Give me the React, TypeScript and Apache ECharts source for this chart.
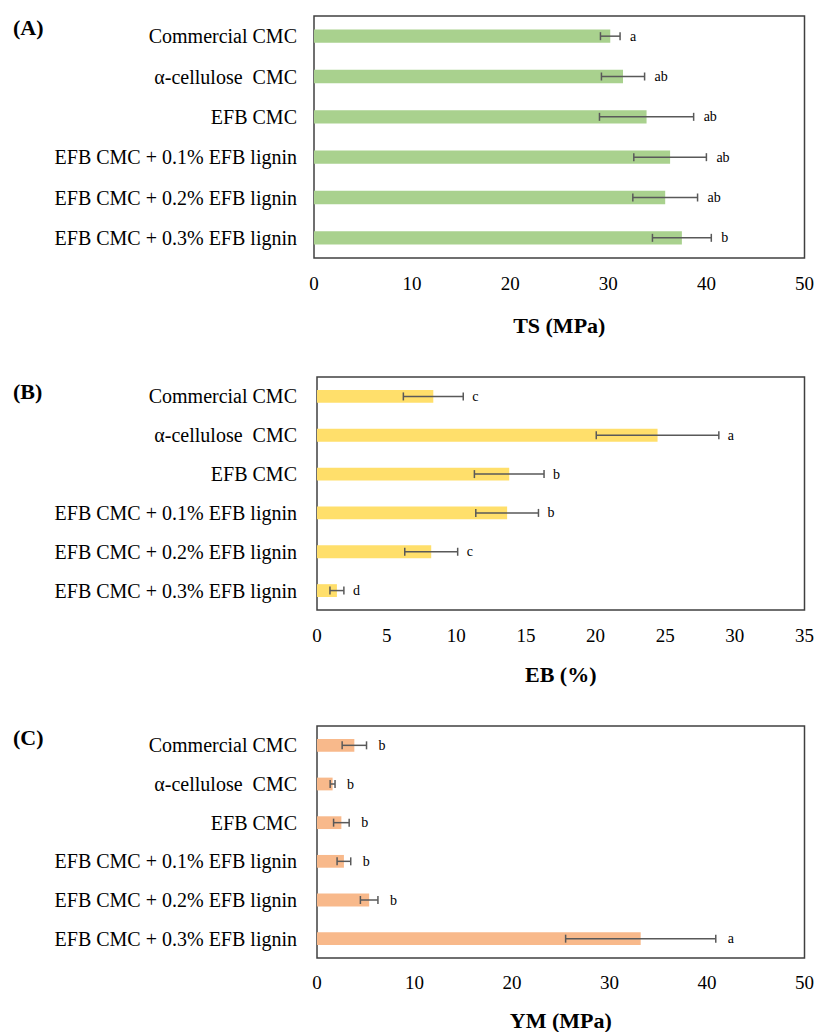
import React, { useEffect, useRef } from "react";
import * as echarts from "echarts";

const categories = [
  "Commercial CMC",
  "α-cellulose  CMC",
  "EFB CMC",
  "EFB CMC + 0.1% EFB lignin",
  "EFB CMC + 0.2% EFB lignin",
  "EFB CMC + 0.3% EFB lignin",
];

const tsMean = [30.2, 31.5, 33.9, 36.3, 35.8, 37.5];
const tsSd = [1.0, 2.2, 4.8, 3.7, 3.3, 3.0];
const tsLetters = ["a", "ab", "ab", "ab", "ab", "b"];

const ebMean = [8.35, 24.45, 13.8, 13.65, 8.2, 1.43];
const ebSd = [2.15, 4.4, 2.5, 2.25, 1.9, 0.5];
const ebLetters = ["c", "a", "b", "b", "c", "d"];

const ymMean = [3.83, 1.6, 2.5, 2.76, 5.35, 33.2];
const ymSd = [1.25, 0.25, 0.8, 0.7, 0.9, 7.7];
const ymLetters = ["b", "b", "b", "b", "b", "a"];

const SERIF = "Liberation Serif, Times New Roman, serif";

type Panel = {
  mean: number[];
  sd: number[];
  letters: string[];
  color: string;
  max: number;
  interval: number;
  name: string;
  grid: { left: number; right: number; top: number; height: number };
  nameGap: number;
  labelMargin: number;
  yLabelMargin: number;
  letterOffset: number;
};

const panels: Panel[] = [
  {
    mean: tsMean, sd: tsSd, letters: tsLetters, color: "#A9D18E", max: 50, interval: 10,
    name: "TS (MPa)", grid: { left: 314, right: 11, top: 16, height: 242 },
    nameGap: 67, labelMargin: 16, yLabelMargin: 17, letterOffset: 10,
  },
  {
    mean: ebMean, sd: ebSd, letters: ebLetters, color: "#FFDF6B", max: 35, interval: 5,
    name: "EB (%)", grid: { left: 317, right: 11, top: 377, height: 233 },
    nameGap: 64, labelMargin: 16, yLabelMargin: 20, letterOffset: 9,
  },
  {
    mean: ymMean, sd: ymSd, letters: ymLetters, color: "#F8B98B", max: 50, interval: 10,
    name: "YM (MPa)", grid: { left: 317, right: 10, top: 726, height: 236 },
    nameGap: 62, labelMargin: 15, yLabelMargin: 20, letterOffset: 12,
  },
];

const panelTags = ["(A)", "(B)", "(C)"];
const tagY = [28, 392, 738];

export default function App() {
  const ref = useRef<HTMLDivElement>(null);
  useEffect(() => {
    if (!ref.current) return;
    const chart = echarts.init(ref.current, undefined, { renderer: "svg" });
    const grids: any[] = [];
    const xAxes: any[] = [];
    const yAxes: any[] = [];
    const series: any[] = [];
    panels.forEach((p, k) => {
      grids.push({
        ...p.grid,
        show: true,
        borderColor: "#404040",
        borderWidth: 1.5,
        backgroundColor: "#fff",
      });
      xAxes.push({
        type: "value",
        gridIndex: k,
        min: 0,
        max: p.max,
        interval: p.interval,
        axisLine: { show: false },
        axisTick: { show: false },
        splitLine: { show: false },
        axisLabel: { fontFamily: SERIF, fontSize: 19, color: "#000", margin: p.labelMargin },
        name: p.name,
        nameLocation: "middle",
        nameGap: p.nameGap,
        nameTextStyle: { fontFamily: SERIF, fontSize: 22, fontWeight: "bold", color: "#000", verticalAlign: "middle" },
      });
      yAxes.push({
        type: "category",
        gridIndex: k,
        inverse: true,
        data: categories,
        axisLine: { show: false },
        axisTick: { show: false },
        axisLabel: { fontFamily: SERIF, fontSize: 20, color: "#000", margin: p.yLabelMargin },
      });
      series.push({
        type: "bar",
        xAxisIndex: k,
        yAxisIndex: k,
        data: p.mean,
        barWidth: "33%",
        itemStyle: { color: p.color },
      });
      const errData = p.mean.map((m, i) => [m - p.sd[i], m + p.sd[i], i]);
      series.push({
        type: "custom",
        xAxisIndex: k,
        yAxisIndex: k,
        data: errData,
        encode: { x: [0, 1], y: 2 },
        clip: false,
        z: 5,
        renderItem: (params: any, api: any) => {
          const i = api.value(2);
          const a = api.coord([api.value(0), i]);
          const b = api.coord([api.value(1), i]);
          const h = 4;
          const st = { stroke: "#595959", lineWidth: 1.5 };
          return {
            type: "group",
            children: [
              { type: "line", shape: { x1: a[0], y1: a[1], x2: b[0], y2: b[1] }, style: st },
              { type: "line", shape: { x1: a[0], y1: a[1] - h, x2: a[0], y2: a[1] + h }, style: st },
              { type: "line", shape: { x1: b[0], y1: b[1] - h, x2: b[0], y2: b[1] + h }, style: st },
              {
                type: "text",
                x: b[0] + p.letterOffset,
                y: b[1],
                style: {
                  text: p.letters[params.dataIndex],
                  fontFamily: SERIF,
                  fontSize: 14,
                  fill: "#000",
                  align: "left",
                  verticalAlign: "middle",
                },
              },
            ],
          };
        },
      });
    });
    chart.setOption({
      animation: false,
      backgroundColor: "#fff",
      grid: grids,
      xAxis: xAxes,
      yAxis: yAxes,
      series,
      graphic: panelTags.map((t, k) => ({
        type: "text",
        left: 13,
        top: tagY[k] - 12,
        style: { text: t, fontFamily: SERIF, fontSize: 22, fontWeight: "bold", fill: "#000" },
      })),
    });
    return () => chart.dispose();
  }, []);
  return (
    <div
      ref={ref}
      style={{ position: "fixed", left: 0, top: 0, width: 817, height: 1032, background: "#fff" }}
    />
  );
}
